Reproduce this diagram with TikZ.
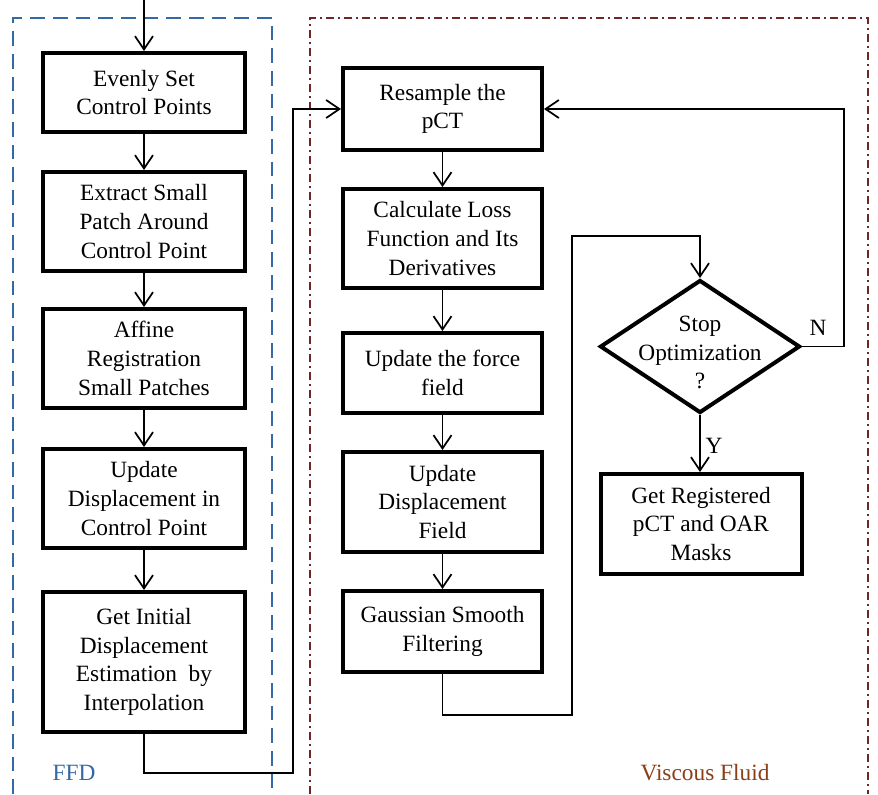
\documentclass[tikz,border=0pt]{standalone}
\usepackage{fontspec}
\setmainfont{Liberation Serif}
\usetikzlibrary{arrows.meta,shapes.geometric}
\definecolor{ffdblue}{RGB}{52,104,166}
\definecolor{vfred}{RGB}{112,38,38}
\definecolor{vftext}{RGB}{140,62,22}
\tikzset{
  stepbox/.style={draw,line width=3pt,rectangle,inner sep=0pt,align=center,
    font=\fontsize{17.5}{21.5}\selectfont},
  lbox/.style={stepbox,minimum width=151.5pt},
  mbox/.style={stepbox,minimum width=149.25pt},
  arr/.style={line width=1.3pt,-{Straight Barb[length=10pt,width=13.5pt,line width=1.3pt]}},
  conn/.style={line width=1.3pt},
  ffdframe/.style={draw=ffdblue,line width=1.5pt,dash pattern=on 11pt off 6pt},
  vfframe/.style={draw=vfred,line width=1.5pt,dash pattern=on 6pt off 3pt on 1.5pt off 3pt},
  lbl/.style={font=\fontsize{17.5}{21.5}\selectfont,inner sep=0pt}
}
\begin{document}
\begin{tikzpicture}[x=0.75pt,y=-0.75pt]
\useasboundingbox (0,0) rectangle (878,794);
% frames
\draw[ffdframe] (13,794) -- (13,18) -- (272,18) -- (272,794);
\draw[vfframe] (310,794) -- (310,18) -- (868,18) -- (868,794);
\node[lbl,text=ffdblue] (ffd) at (74,773) {FFD};
\node[lbl,text=vftext] (vf) at (705,773) {Viscous Fluid};
% left column
\node[lbox,minimum height=59.25pt] (B1) at (144,92.5) {Evenly Set\\Control Points};
\node[lbox,minimum height=74.25pt] (B2) at (144,221.5) {Extract Small\\Patch Around\\Control Point};
\node[lbox,minimum height=74.25pt] (B3) at (144,358.5) {Affine\\Registration\\Small Patches};
\node[lbox,minimum height=74.25pt] (B4) at (144,498.5) {Update\\Displacement in\\Control Point};
\node[lbox,minimum height=105pt] (B5) at (144,662) {Get Initial\\Displacement\\Estimation\ \ by\\Interpolation};
% middle column
\node[mbox,minimum height=61.5pt] (M1) at (442.5,109) {Resample the\\pCT};
\node[mbox,minimum height=74.25pt] (M2) at (442.5,238.5) {Calculate Loss\\Function and Its\\Derivatives};
\node[mbox,minimum height=60pt] (M3) at (442.5,373) {Update the force\\field};
\node[mbox,minimum height=75pt] (M4) at (442.5,502) {Update\\Displacement\\Field};
\node[mbox,minimum height=60.75pt] (M5) at (442.5,631.5) {Gaussian Smooth\\Filtering};
% decision
\node[draw,diamond,line width=3pt,inner sep=0pt,minimum width=150pt,minimum height=99.75pt,
  label={[lbl,align=center,yshift=-4.5pt]center:Stop\\Optimization\\?}] (D) at (700,346.5) {};
\node[stepbox,minimum width=150.75pt,minimum height=75pt] (G) at (701,524) {Get Registered\\pCT and OAR\\Masks};
% connectors
\coordinate (start) at (144,0);
\coordinate (j1) at (293,773);
\coordinate (j2) at (572,715);
\coordinate (j3) at (700,236);
\coordinate (j4) at (844,109);
\draw[arr] (start) -- (B1.north);
\draw[arr] (B1) -- (B2);
\draw[arr] (B2) -- (B3);
\draw[arr] (B3) -- (B4);
\draw[arr] (B4) -- (B5);
\draw[arr] (B5.south) |- (j1) |- (M1.west);
\draw[arr] (M1) -- (M2);
\draw[arr] (M2) -- (M3);
\draw[arr] (M3) -- (M4);
\draw[arr] (M4) -- (M5);
\draw[arr] (M5.south) |- (j2) |- (j3) -- (D.north);
\draw[arr] (D.east) -| (j4) -- (M1.east);
\draw[arr] (D.south) -- (G.north -| D.south);
\node[lbl] (N) at (818,328) {N};
\node[lbl] (Y) at (714,446) {Y};
\end{tikzpicture}
\end{document}
